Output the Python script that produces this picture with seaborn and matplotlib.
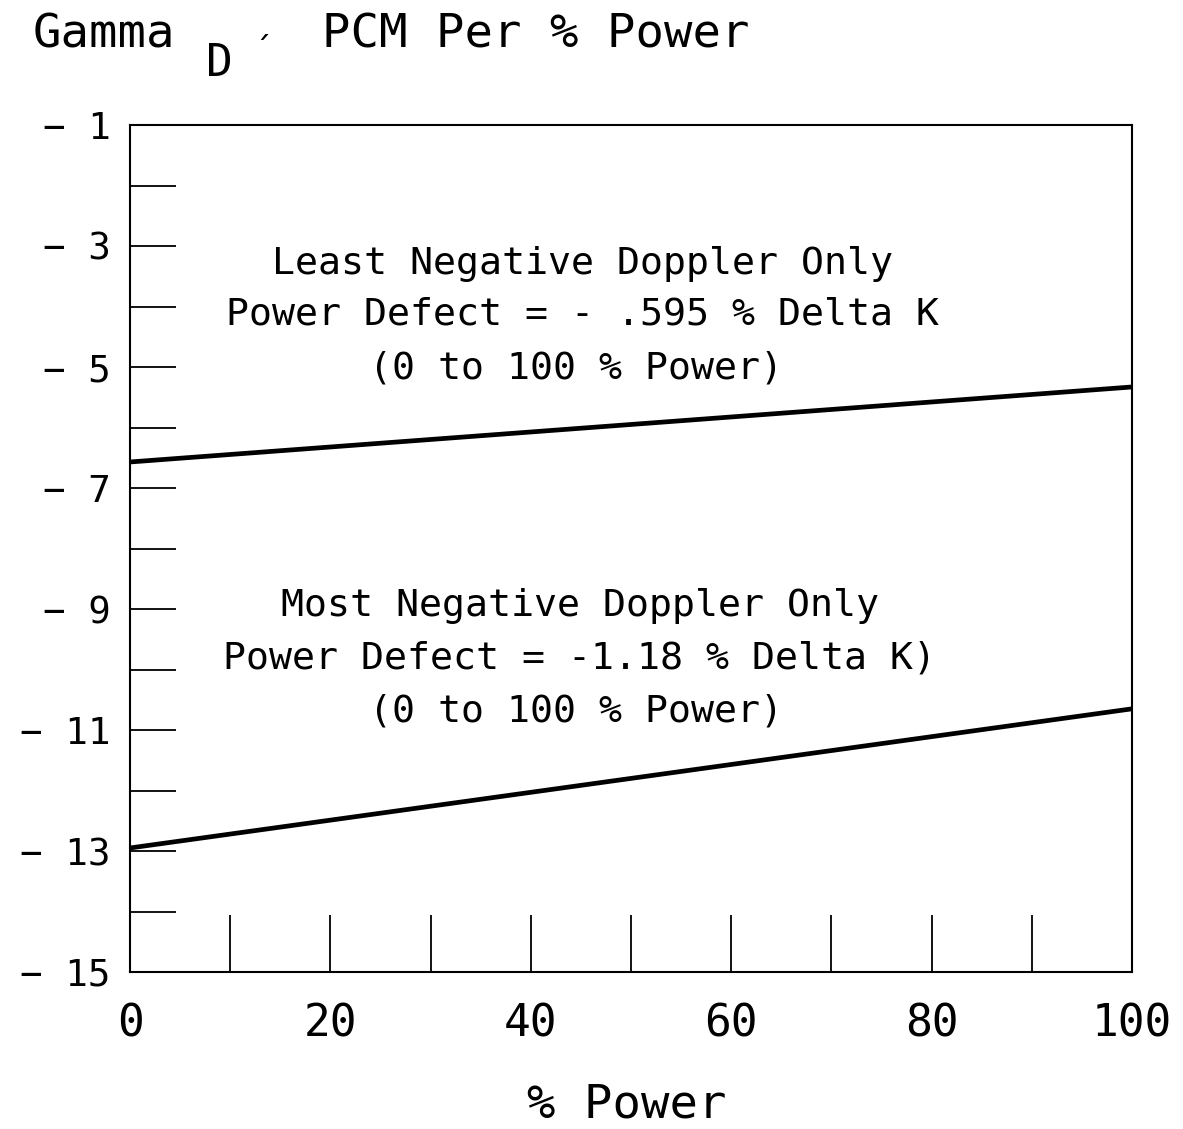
import numpy as np
import pandas as pd
import matplotlib
matplotlib.use("Agg")
import matplotlib.pyplot as plt
import seaborn as sns

# Data
power = [0, 100]
least_negative = [-6.57, -5.33]
most_negative = [-12.95, -10.65]
series_names = ["Least Negative Doppler Only", "Most Negative Doppler Only"]

y_ticks = list(range(-15, 0))
y_tick_labels = [f"\u2212 {abs(v)}" if v % 2 != 0 else "" for v in y_ticks]
x_ticks = list(range(0, 101, 10))
x_tick_labels = [str(v) if v % 20 == 0 else "" for v in x_ticks]

df = pd.DataFrame({
    "power": power * 2,
    "gamma": least_negative + most_negative,
    "series": [series_names[0]] * 2 + [series_names[1]] * 2,
})

sns.set_style("white")
plt.rcParams['font.family'] = ['DejaVu Sans Mono', 'DejaVu Sans']
plt.rcParams['text.color'] = 'black'

fig = plt.figure(figsize=(11.83, 11.29), dpi=100)
ax = fig.add_axes([130 / 1183, 1 - 972 / 1129, (1132 - 130) / 1183, (972 - 125) / 1129])

sns.lineplot(data=df, x="power", y="gamma", units="series", estimator=None,
             color="black", linewidth=3.4, legend=False, ax=ax)

ax.set_xlim(0, 100)
ax.set_ylim(-15, -1)
ax.set_yticks(y_ticks)
ax.set_yticklabels(y_tick_labels)
ax.set_xticks(x_ticks)
ax.set_xticklabels(x_tick_labels)
ax.tick_params(axis="y", left=True, direction="in", length=33, width=1.3, pad=14,
               labelsize=27, colors="black")
ax.tick_params(axis="x", bottom=True, direction="in", length=41, width=1.3, pad=22,
               labelsize=32, colors="black")
for s in ax.spines.values():
    s.set_color("black")
    s.set_linewidth(1.5)
ax.set_xlabel("")
ax.set_ylabel("")

txt_kw = dict(ha="center", va="center", fontsize=27.5, color="black")
ax.text(45.2, -3.30, "Least Negative Doppler Only", **txt_kw)
ax.text(45.2, -4.14, "Power Defect = - .595 % Delta K", **txt_kw)
ax.text(44.5, -5.02, "(0 to 100 % Power)", **txt_kw)
ax.text(44.9, -8.95, "Most Negative Doppler Only", **txt_kw)
ax.text(44.9, -9.81, "Power Defect = -1.18 % Delta K)", **txt_kw)
ax.text(44.5, -10.69, "(0 to 100 % Power)", **txt_kw)

# Title pieces and x label
fig.text(33 / 1183, 1 - 35 / 1129, "Gamma", fontsize=34, va="center", ha="left", color="black")
fig.text(206 / 1183, 1 - 64 / 1129, "D", fontsize=32, va="center", ha="left", color="black")
fig.text(252 / 1183, 1 - 52 / 1129, "\u00b4", fontsize=24, va="center", ha="left", color="black")
fig.text(322 / 1183, 1 - 35 / 1129, "PCM Per % Power", fontsize=34, va="center", ha="left", color="black")
fig.text(627 / 1183, 1 - 1105 / 1129, "% Power", fontsize=34, va="center", ha="center", color="black")

fig.savefig("out.png", dpi=100, facecolor="white")
